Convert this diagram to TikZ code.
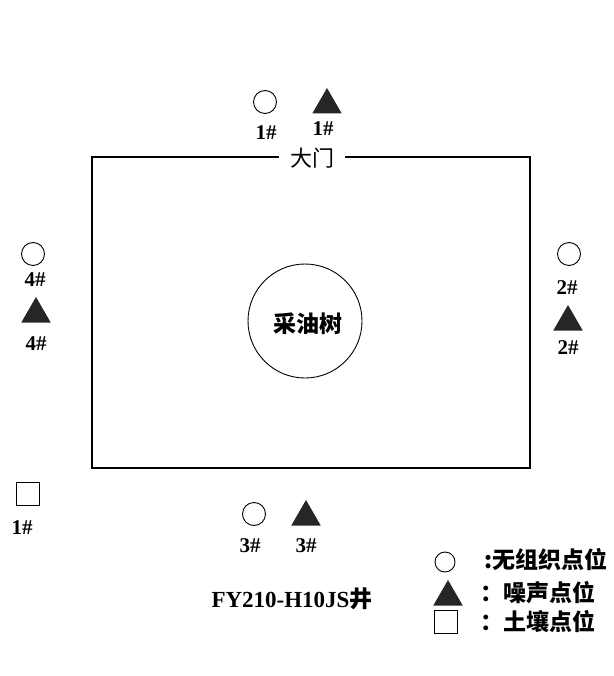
\documentclass[tikz,border=0pt]{standalone}
\usepackage{fontspec}
\setmainfont{Liberation Serif}
\newfontfamily\cjk{Noto Sans CJK SC}
\usetikzlibrary{shapes.geometric}
\begin{document}
\begin{tikzpicture}[x=1pt,y=-1pt,
	pt/.style={circle,draw=black,line width=0.9pt,inner sep=0pt,minimum size=23pt},
	tri/.style={regular polygon,regular polygon sides=3,fill=black!85,inner sep=0pt,minimum size=34pt},
	sq/.style={rectangle,draw=black,line width=0.9pt,inner sep=0pt,minimum size=23pt},
	num/.style={font=\fontsize{21}{22}\selectfont\bfseries,inner sep=0pt},
	zh/.style={font=\fontsize{22}{24}\selectfont\cjk,inner sep=0pt}]
	\useasboundingbox (0,0) rectangle (613,676);
	% station yard
	\draw[black,line width=1.1pt] (92,157) rectangle (530,468);
	\node[zh,fill=white,inner xsep=11pt,inner ysep=2pt](gate) at (312,158){大门};
	\node[circle,draw=black,line width=0.9pt,minimum size=114pt,inner sep=0pt](tree) at (305,321){};
	\node[zh,font=\fontsize{23}{25}\selectfont\cjk\bfseries](treelbl) at (308,324){采油树};
	
	% 1#
	\node[pt](c1) at (265,102){};
	\node[num](c1lbl) at (266,133){1\#};
	\node[tri](t1) at (327,105){};
	\node[num](t1lbl) at (323,129){1\#};
	% 2#
	\node[pt](c2) at (569,254){};
	\node[num](c2lbl) at (567,288){2\#};
	\node[tri](t2) at (568,322){};
	\node[num](t2lbl) at (568,348){2\#};
	% 3#
	\node[pt](c3) at (254,514){};
	\node[num](c3lbl) at (250,546){3\#};
	\node[tri](t3) at (306,517){};
	\node[num](t3lbl) at (306,546){3\#};
	% 4#
	\node[pt](c4) at (33,254){};
	\node[num](c4lbl) at (35,280){4\#};
	\node[tri](t4) at (36,314){};
	\node[num](t4lbl) at (36,344){4\#};
	% soil
	\node[sq](s1) at (28,494){};
	\node[num](s1lbl) at (22,528){1\#};
	
	% title and legend
	\node[num,font=\fontsize{23}{25}\selectfont\bfseries](title) at (292,599){FY210-H10JS\cjk 井};
	\node[pt,minimum size=20pt](legc) at (445,562){};
	\node[tri](legt) at (448,597){};
	\node[sq](legs) at (446,622){};
	\node[zh,anchor=west,font=\fontsize{23}{25}\selectfont\cjk\bfseries](legctxt) at (484,560){:无组织点位};
	\node[zh,anchor=west,font=\fontsize{23}{25}\selectfont\cjk\bfseries](legttxt) at (480,593){：噪声点位};
	\node[zh,anchor=west,font=\fontsize{23}{25}\selectfont\cjk\bfseries](legstxt) at (480,622){：土壤点位};
\end{tikzpicture}
\end{document}
